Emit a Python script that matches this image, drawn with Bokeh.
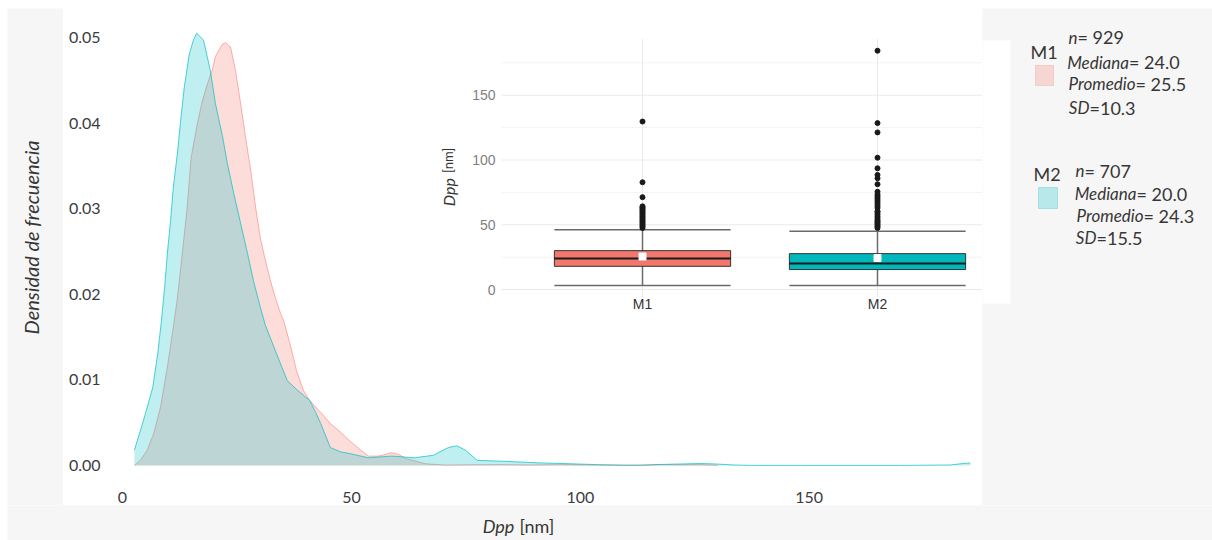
import math
from bokeh.plotting import figure
from bokeh.models import Range1d, FixedTicker, PrintfTickFormatter
from bokeh.layouts import row, column
from bokeh.embed import file_html
from bokeh.resources import INLINE
from bokeh.core.properties import value

# ---------------- data ----------------
groups = ["M1", "M2"]
colors = ["#F8766D", "#00BFC4"]
box_colors = ["#F2786E", "#00B7BC"]

# density curves (Dpp [nm], density)
m1_x = [2.6, 3.9, 5.4, 6.8, 8.3, 9.8, 10.9, 12.0, 13.0, 14.1, 15.0, 16.3, 17.4, 18.5, 19.6, 20.3,
        21.8, 22.5, 23.6, 24.7, 25.8, 26.9, 28.0, 29.1, 30.1, 31.2, 32.3, 33.4, 34.5, 35.2, 36.7,
        38.0, 39.5, 40.9, 43.3, 45.4, 47.6, 49.6, 52.0, 53.7, 55.9, 57.5, 58.8, 60.3, 62.0, 66.2,
        70.3, 76.0, 82.6, 89.0, 95.7, 104.4, 110.0, 117.5, 122.0, 126.3, 130.0]
m1_y = [0.0, 0.0006, 0.0018, 0.0037, 0.0068, 0.0115, 0.0154, 0.0196, 0.0245, 0.0300, 0.0360, 0.0398,
        0.0425, 0.0445, 0.0462, 0.0478, 0.0492, 0.0494, 0.0489, 0.0461, 0.0423, 0.0383, 0.0345,
        0.0301, 0.0266, 0.0240, 0.0216, 0.0196, 0.0178, 0.0169, 0.0140, 0.0111, 0.0088, 0.0076,
        0.0062, 0.0049, 0.0039, 0.0029, 0.0018, 0.0011, 0.0011, 0.0013, 0.0015, 0.0013, 0.0008,
        0.0002, 0.00005, 0.00008, 0.0001, 0.00006, 0.0001, 0.00005, 0.00002, 0.00012, 0.00008,
        0.0001, 0.00002]

m2_x = [2.6, 4.6, 6.6, 7.7, 8.5, 9.2, 9.8, 10.5, 11.1, 12.0, 12.7, 13.5, 14.6, 15.5, 16.2, 17.7,
        19.2, 20.3, 21.9, 22.9, 24.3, 25.8, 27.3, 28.6, 30.1, 31.2, 33.4, 36.0, 38.2, 40.9, 42.2,
        43.3, 45.4, 47.6, 49.6, 53.7, 58.8, 63.8, 67.9, 71.2, 73.0, 74.9, 77.5, 83.0, 91.3, 98.0,
        104.0, 108.8, 113.2, 117.5, 121.9, 126.3, 129.5, 133.5, 137.2, 148.1, 169.9, 180.9, 183.0,
        185.2]
m2_y = [0.0018, 0.0053, 0.0091, 0.0131, 0.0169, 0.0208, 0.0248, 0.0286, 0.0325, 0.0365, 0.0403,
        0.0442, 0.0481, 0.0497, 0.0505, 0.0497, 0.0461, 0.0423, 0.0383, 0.0353, 0.0318, 0.0283,
        0.0248, 0.0216, 0.0185, 0.0164, 0.0134, 0.0099, 0.0088, 0.0076, 0.0062, 0.0049, 0.0021,
        0.0016, 0.0014, 0.0009, 0.0011, 0.0009, 0.0012, 0.0021, 0.0023, 0.0018, 0.0006, 0.0005,
        0.0003, 0.0002, 0.0001, 0.00005, 0.00002, 0.00012, 0.00018, 0.00023, 0.00018, 0.00006,
        0.00002, 0.00001, 0.00001, 0.00006, 0.0002, 0.0003]

x_ticks = [0, 50, 100, 150]
y_ticks = [0.0, 0.01, 0.02, 0.03, 0.04, 0.05]

# boxplot statistics (Dpp [nm])
box_pos = [1, 2]
q1 = [17.9, 15.4]
median = [24.0, 20.0]
q3 = [30.0, 27.7]
mean = [25.5, 24.3]
whisk_lo = [3.1, 3.1]
whisk_hi = [46.2, 44.9]
out_m1 = [47.5, 48.5, 49.5, 50.5, 51.5, 52.5, 53.5, 54.5, 55.5, 56.5, 57.5, 58.5, 59.5, 60.5,
          61.5, 62.5, 63.3, 64.2, 71.3, 82.8, 129.7]
out_m2 = [47.5, 48.5, 49.5, 50.5, 51.5, 52.5, 53.5, 55.0, 56.5, 58.0, 59.5, 60.5, 63.0, 64.5,
          66.0, 67.5, 69.0, 70.5, 72.0, 73.5, 75.5, 81.3, 85.9, 88.5, 93.6, 101.8, 121.3, 128.5,
          184.4]
inset_ticks = [0, 50, 100, 150]
inset_minor = [25, 75, 125, 175]

# legend statistics
n_obs = [929, 707]
sd = [10.3, 15.5]

FONT = "Lato"
GRAY = "#F6F6F6"
TXT = "#363636"


def no_align(f):
    if "frame_align" in f.properties():
        f.frame_align = False
    return f


def panel(width, height, xr, yr, **borders):
    f = figure(width=width, height=height, output_backend="svg", toolbar_location=None,
               x_range=xr, y_range=yr, x_axis_location=None, y_axis_location=None,
               min_border_left=borders.get("left", 0), min_border_right=0,
               min_border_top=borders.get("top", 0), min_border_bottom=0)
    f.grid.visible = False
    f.outline_line_color = None
    f.border_fill_color = "white"
    f.background_fill_color = GRAY
    return no_align(f)


# ---------------- main figure ----------------
p = figure(width=919, height=505, output_backend="svg", toolbar_location=None,
           x_range=Range1d(-3.495, 187.85), y_range=Range1d(-0.001752, 0.054322),
           min_border_left=43, min_border_right=0, min_border_top=0, min_border_bottom=25)
no_align(p)
p.border_fill_color = "white"
p.background_fill_color = "white"
p.outline_line_color = None
p.grid.visible = False

xa = p.xaxis[0]
xa.ticker = FixedTicker(ticks=x_ticks)
xa.major_label_standoff = 11
ya = p.yaxis[0]
ya.ticker = FixedTicker(ticks=y_ticks)
ya.formatter = PrintfTickFormatter(format="%.2f")
ya.major_label_standoff = 6
for ax in (xa, ya):
    ax.axis_line_color = None
    ax.major_tick_line_color = None
    ax.minor_tick_line_color = None
    ax.major_tick_out = 0
    ax.major_tick_in = 0
    ax.minor_tick_out = 0
    ax.major_label_text_font = FONT
    ax.major_label_text_font_size = "16px"
    ax.major_label_text_color = "#3c3c3c"

# density areas
p.varea(x=m1_x, y1=0, y2=m1_y, fill_color=colors[0], fill_alpha=0.25)
p.line(m1_x, m1_y, line_color=colors[0], line_alpha=0.55, line_width=1)
p.varea(x=m2_x, y1=0, y2=m2_y, fill_color=colors[1], fill_alpha=0.25)
p.line(m2_x, m2_y, line_color=colors[1], line_alpha=0.7, line_width=1)

# ---------------- inset boxplot (extra ranges) ----------------
p.extra_x_ranges = {"bx": Range1d(-1.2809, 2.4468)}
p.extra_y_ranges = {"by": Range1d(-147.49, 223.17)}
kw = dict(x_range_name="bx", y_range_name="by")

all_vals = whisk_lo + whisk_hi + out_m1 + out_m2
ylo = min(all_vals) - 0.05 * (max(all_vals) - min(all_vals))
yhi = max(all_vals) + 0.05 * (max(all_vals) - min(all_vals))
xlo, xhi = box_pos[0] - 0.6, box_pos[-1] + 0.6

p.segment(x0=[xlo] * 4, x1=[xhi] * 4, y0=inset_minor, y1=inset_minor,
          line_color="#F3F3F3", line_width=1, **kw)
p.segment(x0=[xlo] * 4, x1=[xhi] * 4, y0=inset_ticks, y1=inset_ticks,
          line_color="#EAEAEA", line_width=1, **kw)
p.segment(x0=box_pos, x1=box_pos, y0=[ylo] * 2, y1=[yhi] * 2,
          line_color="#EAEAEA", line_width=1, **kw)

hw = 0.375
p.segment(x0=box_pos, x1=box_pos, y0=whisk_lo, y1=whisk_hi, line_color="#6b6b6b",
          line_width=1.5, **kw)
p.segment(x0=[b - hw for b in box_pos], x1=[b + hw for b in box_pos], y0=whisk_lo, y1=whisk_lo,
          line_color="#6b6b6b", line_width=1.5, **kw)
p.segment(x0=[b - hw for b in box_pos], x1=[b + hw for b in box_pos], y0=whisk_hi, y1=whisk_hi,
          line_color="#6b6b6b", line_width=1.5, **kw)
p.vbar(x=box_pos, width=2 * hw, bottom=q1, top=q3, fill_color=box_colors, line_color="#333333",
       line_width=1, **kw)
p.segment(x0=[b - hw for b in box_pos], x1=[b + hw for b in box_pos], y0=median, y1=median,
          line_color="#1a1a1a", line_width=2, **kw)
p.scatter(x=[box_pos[0]] * len(out_m1), y=out_m1, size=5, color="#1a1a1a", **kw)
p.scatter(x=[box_pos[1]] * len(out_m2), y=out_m2, size=5, color="#1a1a1a", **kw)
p.scatter(x=box_pos, y=mean, marker="square", size=7, fill_color="white", line_color="white", **kw)

p.text(x=[xlo] * len(inset_ticks), y=inset_ticks, text=[str(t) for t in inset_ticks],
       x_offset=-6, text_align="right", text_baseline="middle",
       text_font=value("Liberation Sans"), text_font_size="14px", text_color="#7f7f7f", **kw)
p.text(x=box_pos, y=[ylo] * 2, text=groups, y_offset=7, text_align="center",
       text_baseline="middle", text_font=value("Liberation Sans"), text_font_size="14px",
       text_color="#333333", **kw)
p.text(x=[0.173], y=[86], text=["Dpp"], angle=math.pi / 2, text_align="right",
       text_baseline="middle", text_font=value(FONT), text_font_style="italic",
       text_font_size="16px", text_color="#333333", **kw)
p.text(x=[0.173], y=[90], text=["[nm]"], angle=math.pi / 2, text_align="left",
       text_baseline="middle", text_font=value(FONT), text_font_size="13px",
       text_color="#333333", **kw)

# ---------------- left strip: y title ----------------
left = panel(63, 505, Range1d(7, 63), Range1d(505, 8), left=7, top=8)
left.text(x=[30], y=[237], text=["Densidad de frecuencia"], angle=math.pi / 2,
          text_align="center", text_baseline="middle", text_font=value(FONT),
          text_font_style="italic", text_font_size="20px", text_color=TXT)

# ---------------- legend panel ----------------
lg = panel(230, 505, Range1d(982, 1212), Range1d(505, 8), top=8)
lg.quad(left=[982], right=[1010], top=[40], bottom=[303], fill_color="white", line_color=None)
lg.text(x=[1043.7, 1046.5], y=[51.7, 173], text=groups, text_align="center",
        text_baseline="middle", text_font=value(FONT), text_font_size="18px", text_color=TXT)
lg.rect(x=[1044, 1047.5], y=[75, 197.5], width=[18, 19], height=[20, 21], fill_color=colors,
        fill_alpha=0.25, line_color=colors, line_alpha=0.25)

ital, norm, sx, sy = [], [], [], []
split_x = [[1077, 1128.5, 1135, 1089], [1084, 1136, 1143, 1096]]
line_y = [[36.7, 61.7, 83.3, 107.3], [170, 193, 215, 237]]
for g in range(2):
    ital += ["n", "Mediana", "Promedio", "SD"]
    norm += ["= %d" % n_obs[g], "= %.1f" % median[g], "= %.1f" % mean[g], "=%.1f" % sd[g]]
    sx += split_x[g]
    sy += line_y[g]
lg.text(x=sx, y=sy, text=ital, text_align="right", text_baseline="middle", text_font=value(FONT),
        text_font_style="italic", text_font_size="17px", text_color=TXT)
lg.text(x=sx, y=sy, text=norm, text_align="left", text_baseline="middle", text_font=value(FONT),
        text_font_size="18px", text_color=TXT)

# ---------------- bottom strip: x title ----------------
bottom = panel(1212, 35, Range1d(-25.12, 238.10), Range1d(540, 505), left=7)
bottom.text(x=[85.6], y=[525], text=["Dpp"], text_align="right", text_baseline="middle",
            text_font=value(FONT), text_font_style="italic", text_font_size="18px", text_color=TXT)
bottom.text(x=[86.7], y=[525], text=["[nm]"], text_align="left", text_baseline="middle",
            text_font=value(FONT), text_font_size="18px", text_color=TXT)

layout = column(row(left, p, lg), bottom)
open("out.html", "w").write(file_html(layout, INLINE))
